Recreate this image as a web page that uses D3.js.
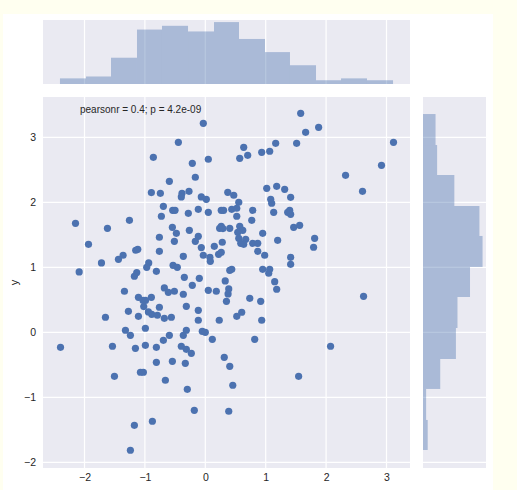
<!DOCTYPE html>
<meta charset="utf-8">
<style>
  body { margin: 0; background: #fffff0; }
  svg { display: block; }
  text { font-family: "Liberation Sans", Arial, sans-serif; fill: #262626; }
  .grid line { stroke: #fff; stroke-width: 1.2; }
  .axis .domain { display: none; }
  .axis text { font-size: 10.5px; }
</style>
<body>
<script src="https://d3js.org/d3.v7.min.js"></script>
<script>
// scatter values
var xs = [
  -0.033,-0.446,-0.86,0.05,-0.215,-0.165,-0.595,-0.893,-0.744,-0.386,-0.397,-0.27,-0.066,0.017,
  -0.694,-0.54,-0.501,-0.281,-0.116,0.05,0.264,0.303,-0.727,-2.149,-1.62,-1.256,-0.545,-0.479,
  -0.264,-0.116,-0.165,0.264,0.237,0.292,0.281,-0.76,-0.512,-1.934,-0.76,-1.152,-1.118,-1.361,
  -1.438,-1.719,-2.088,-0.937,-0.97,-1.135,-1.174,-0.81,-0.364,-0.534,-0.463,-0.066,-0.033,0.077,
  0.083,0.149,0.22,0.264,-0.347,-0.099,
  1.579,1.661,1.876,1.165,1.512,0.636,0.57,0.702,0.934,1.066,3.116,2.917,2.322,2.603,1.017,1.182,
  1.314,1.413,0.372,0.471,0.554,1.083,1.099,1.132,0.785,0.438,0.521,0.521,1.364,1.397,1.413,0.769,
  1.463,1.562,0.405,0.57,0.62,0.537,0.95,0.554,0.669,0.587,0.636,0.785,0.868,1.198,0.868,0.983,
  1.81,1.793,1.413,1.413,0.405,0.438,0.95,1.066,1.05,
  -1.339,-1.107,-0.893,-0.678,-0.612,-0.512,-0.364,-0.215,0.05,0.182,-1.03,-0.99,-1.019,-0.942,
  -0.887,-0.793,-0.76,-0.678,-0.562,-1.653,-1.273,-1.107,-0.314,-0.116,-0.116,0.231,-1.322,-1.24,
  -0.992,-0.595,-0.694,-0.314,-0.364,-0.05,0.0,0.116,-2.397,-1.537,-1.157,-0.992,-0.81,-0.397,
  -0.314,-0.231,0.314,-0.81,-0.545,-0.331,-1.504,-1.074,-1.025,-0.661,-0.298,-0.182,-1.174,-0.876,
  -1.24,
  0.33,1.149,1.182,0.388,0.377,0.35,0.736,0.917,0.521,0.603,0.934,0.818,0.405,0.455,0.388,2.074,
  1.545,2.62
];
var ys = [
  3.215,2.923,2.692,2.662,2.6,2.385,2.323,2.149,2.138,2.138,2.082,2.169,2.082,2.046,
  1.938,1.877,1.877,1.831,1.892,1.846,1.877,1.877,1.785,1.677,1.6,1.723,1.615,1.523,
  1.569,1.477,1.4,1.631,1.6,1.595,1.385,1.462,1.4,1.354,1.246,1.262,1.277,1.185,
  1.123,1.067,0.928,1.067,1.0,0.918,0.862,0.938,1.169,1.031,1.0,1.303,1.185,1.154,
  1.092,1.323,1.2,1.231,0.846,0.831,
  3.369,3.077,3.154,2.908,2.908,2.846,2.677,2.723,2.769,2.785,2.923,2.569,2.415,2.169,2.215,2.246,
  2.2,2.077,2.154,2.108,2.0,2.046,1.985,1.846,1.877,1.892,1.908,1.785,1.846,1.877,1.815,1.723,
  1.615,1.646,1.6,1.631,1.569,1.538,1.523,1.446,1.431,1.369,1.354,1.369,1.369,1.415,1.246,1.185,
  1.446,1.308,1.154,1.046,0.954,0.969,0.969,0.969,0.908,
  0.631,0.538,0.538,0.682,0.615,0.631,0.585,0.723,0.646,0.631,0.49,0.49,0.395,0.313,
  0.277,0.262,0.385,0.215,0.231,0.231,0.323,0.246,0.4,0.338,0.185,0.185,0.031,-0.046,
  0.062,-0.046,-0.123,0.031,-0.046,0.015,0.0,-0.108,-0.231,-0.215,-0.246,-0.2,-0.231,-0.215,
  -0.262,-0.323,-0.385,-0.462,-0.446,-0.477,-0.677,-0.615,-0.615,-0.738,-0.877,-1.2,-1.431,-1.369,
  -1.815,
  0.79,0.779,0.662,0.667,0.59,0.477,0.523,0.477,0.246,0.308,0.185,-0.108,-0.523,-0.815,-1.215,-0.215,
  -0.677,0.554
];

// marginal histograms
var xBinEdges = [-2.406,-1.975,-1.561,-1.131,-0.717,-0.286,0.144,0.558,0.988,1.402,1.833,2.247,2.677,3.108];
var xCounts = [3,4,14,29,31,28,33,24,17,10,2,3,2];
var yBinEdges = [-1.811,-1.349,-0.872,-0.411,0.066,0.543,1.005,1.482,1.943,2.42,2.881,3.358];
var yCounts = [3,2,11,21,22,30,38,36,20,9,8];

var tickVals = [-2,-1,0,1,2,3];
var statText = "pearsonr = 0.4; p = 4.2e-09";
var yLabel = "y";

var blue = "#4c72b0", panel = "#eaeaf2";

var joint = {left: 43, right: 410, top: 97, bottom: 468},
    topM = {top: 20, bottom: 84},
    rightM = {left: 423, right: 486};

var x = d3.scaleLinear().domain([-2.687, 3.389]).range([joint.left, joint.right]);
var y = d3.scaleLinear().domain([-2.088, 3.62]).range([joint.bottom, joint.top]);
var hy = d3.scaleLinear().domain([0, 34.1]).range([topM.bottom, topM.top]);
var hx = d3.scaleLinear().domain([0, 40.2]).range([rightM.left, rightM.right]);

var svg = d3.select("body").append("svg")
    .attr("width", 517)
    .attr("height", 490);

svg.append("rect").attr("x", 3).attr("y", 14).attr("width", 490).attr("height", 476).attr("fill", "#fff");

// panel backgrounds
function panelRect(x0, y0, x1, y1) {
  svg.append("rect").attr("x", x0).attr("y", y0)
    .attr("width", x1 - x0).attr("height", y1 - y0).attr("fill", panel);
}
panelRect(joint.left, joint.top, joint.right, joint.bottom);
panelRect(joint.left, topM.top, joint.right, topM.bottom);
panelRect(rightM.left, joint.top, rightM.right, joint.bottom);

// grid
var grid = svg.append("g").attr("class", "grid");
grid.selectAll(".vx").data(tickVals).enter().append("line")
    .attr("x1", x).attr("x2", x).attr("y1", joint.top).attr("y2", joint.bottom);
grid.selectAll(".vt").data(tickVals).enter().append("line")
    .attr("x1", x).attr("x2", x).attr("y1", topM.top).attr("y2", topM.bottom);
grid.selectAll(".hy").data(tickVals).enter().append("line")
    .attr("y1", y).attr("y2", y).attr("x1", joint.left).attr("x2", joint.right);
grid.selectAll(".hr").data(tickVals).enter().append("line")
    .attr("y1", y).attr("y2", y).attr("x1", rightM.left).attr("x2", rightM.right);

// top histogram
svg.append("g").selectAll("rect")
    .data(xCounts)
  .enter().append("rect")
    .attr("x", function(d, i) { return x(xBinEdges[i]); })
    .attr("width", function(d, i) { return x(xBinEdges[i + 1]) - x(xBinEdges[i]); })
    .attr("y", function(d) { return hy(d); })
    .attr("height", function(d) { return hy(0) - hy(d); })
    .attr("fill", blue)
    .attr("fill-opacity", 0.4);

// right histogram
svg.append("g").selectAll("rect")
    .data(yCounts)
  .enter().append("rect")
    .attr("x", hx(0))
    .attr("width", function(d) { return hx(d) - hx(0); })
    .attr("y", function(d, i) { return y(yBinEdges[i + 1]); })
    .attr("height", function(d, i) { return y(yBinEdges[i]) - y(yBinEdges[i + 1]); })
    .attr("fill", blue)
    .attr("fill-opacity", 0.4);

// scatter
svg.append("g").selectAll("circle")
    .data(d3.range(xs.length))
  .enter().append("circle")
    .attr("cx", function(i) { return x(xs[i]); })
    .attr("cy", function(i) { return y(ys[i]); })
    .attr("r", 3.6)
    .attr("fill", blue);

// axes
var fmt = d3.format("d");
svg.append("g").attr("class", "axis")
    .attr("transform", "translate(0," + joint.bottom + ")")
    .call(d3.axisBottom(x).tickValues(tickVals).tickFormat(fmt).tickSize(0).tickPadding(6));
svg.append("g").attr("class", "axis")
    .attr("transform", "translate(" + joint.left + ",0)")
    .call(d3.axisLeft(y).tickValues(tickVals).tickFormat(fmt).tickSize(0).tickPadding(7));
svg.selectAll(".axis text").attr("fill", "#262626");

svg.append("text")
    .attr("transform", "translate(17.5," + (joint.top + joint.bottom) / 2 + ") rotate(-90)")
    .attr("text-anchor", "middle")
    .style("font-size", "11px")
    .text(yLabel);

svg.append("text")
    .attr("x", 80)
    .attr("y", 113)
    .style("font-size", "10px")
    .text(statText);
</script>
</body>
</html>
